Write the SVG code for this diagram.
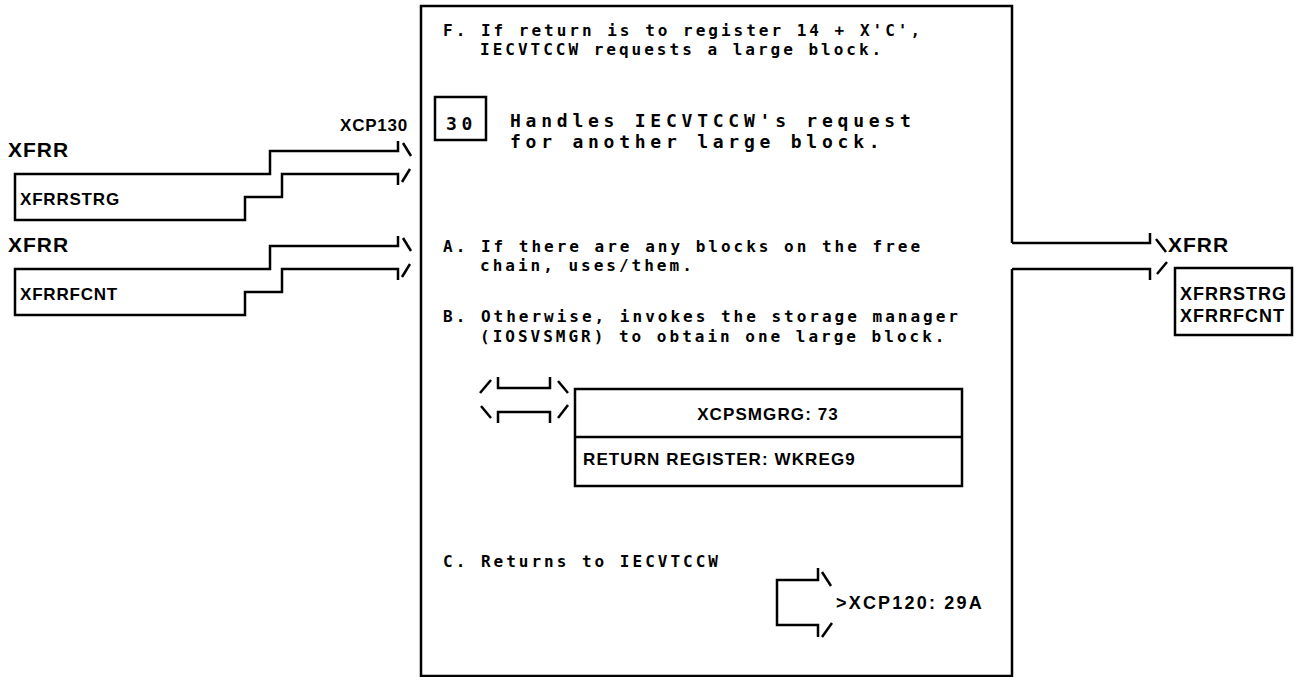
<svg xmlns="http://www.w3.org/2000/svg" width="1297" height="677" viewBox="0 0 1297 677">
<style>
  .ln{fill:none;stroke:#000;stroke-width:2.5;stroke-linejoin:miter;stroke-linecap:butt}
  .mono{font-family:"DejaVu Sans Mono","Liberation Mono",monospace;font-weight:bold;font-size:16px;letter-spacing:3px;fill:#000}
  .head{font-family:"DejaVu Sans Mono","Liberation Mono",monospace;font-weight:bold;font-size:18px;letter-spacing:4.76px;fill:#000}
  .lbl{font-family:"Liberation Sans",Arial,sans-serif;font-weight:bold;font-size:21px;letter-spacing:1px;fill:#000}
  .sm{font-family:"Liberation Sans",Arial,sans-serif;font-weight:bold;font-size:17px;letter-spacing:0.8px;fill:#000}
  .smr{font-family:"Liberation Sans",Arial,sans-serif;font-weight:bold;font-size:18px;letter-spacing:1px;fill:#000}
  .boxt{font-family:"Liberation Sans",Arial,sans-serif;font-weight:bold;font-size:17px;letter-spacing:1.1px;fill:#000}
  .ref{font-family:"Liberation Sans",Arial,sans-serif;font-weight:bold;font-size:18px;letter-spacing:2.2px;fill:#000}
</style>
<rect width="1297" height="677" fill="#fff"/>

<g id="main">
  <path class="ln" d="M1012,243 V6 H421 V676 H1012 V269"/>
  <text class="mono" x="443" y="36">F. If return is to register 14 + X'C',</text>
  <text class="mono" x="480" y="55">IECVTCCW requests a large block.</text>
  <g id="step30">
    <rect class="ln" x="435" y="97" width="51" height="43"/>
    <text class="head" x="446" y="130" letter-spacing="1.5">30</text>
  </g>
  <text class="head" x="510" y="127">Handles IECVTCCW's request</text>
  <text class="head" x="510" y="148">for another large block.</text>
  <text class="mono" x="443" y="252">A. If there are any blocks on the free</text>
  <text class="mono" x="480" y="271">chain, uses/them.</text>
  <text class="mono" x="443" y="322">B. Otherwise, invokes the storage manager</text>
  <text class="mono" x="480" y="342">(IOSVSMGR) to obtain one large block.</text>
  <text class="mono" x="443" y="567">C. Returns to IECVTCCW</text>
</g>

<g id="xcpsmgrg">
  <rect class="ln" x="575" y="389" width="387" height="97"/>
  <line class="ln" x1="575" y1="437" x2="962" y2="437"/>
  <text class="boxt" x="768" y="420" text-anchor="middle">XCPSMGRG: 73</text>
  <text class="boxt" x="583" y="465">RETURN REGISTER: WKREG9</text>
</g>

<g id="xfrr-in1">
  <text class="lbl" x="8" y="157">XFRR</text>
  <text class="sm" x="20" y="205">XFRRSTRG</text>
</g>
<g id="xfrr-in2">
  <text class="lbl" x="8" y="252">XFRR</text>
  <text class="sm" x="20" y="300">XFRRFCNT</text>
</g>
<g id="xcp130">
  <text class="sm" x="340" y="131" letter-spacing="1.5">XCP130</text>
</g>
<g id="xfrr-out">
  <text class="lbl" x="1168" y="252">XFRR</text>
  <rect class="ln" x="1175" y="268" width="117" height="67"/>
  <text class="smr" x="1180" y="300">XFRRSTRG</text>
  <text class="smr" x="1180" y="322">XFRRFCNT</text>
</g>
<g id="xcp120">
  <text class="ref" x="836" y="609">&gt;XCP120: 29A</text>
</g>

<g id="connectors">
  <path class="ln" d="M398,141 V151 H270 V174 H15 V220 H245 V197 H282 V174 H398 V185"/>
  <line class="ln" x1="403" y1="143" x2="411" y2="156"/>
  <line class="ln" x1="402" y1="182" x2="410" y2="169"/>
  <path class="ln" d="M398,236 V246 H270 V269 H15 V315 H245 V292 H282 V269 H398 V280"/>
  <line class="ln" x1="403" y1="238" x2="411" y2="251"/>
  <line class="ln" x1="402" y1="277" x2="410" y2="264"/>
  <path class="ln" d="M1012,243 H1150 V233"/>
  <line class="ln" x1="1156" y1="239" x2="1166" y2="252"/>
  <path class="ln" d="M1012,269 H1150 V280"/>
  <line class="ln" x1="1157" y1="274" x2="1167" y2="262"/>
  <path class="ln" d="M498,377 V388 H550 V377"/>
  <line class="ln" x1="480" y1="393" x2="491" y2="380"/>
  <line class="ln" x1="558" y1="381" x2="568" y2="393"/>
  <path class="ln" d="M498,423 V412 H550 V423"/>
  <line class="ln" x1="481" y1="406" x2="491" y2="418"/>
  <line class="ln" x1="558" y1="418" x2="568" y2="405"/>
  <path class="ln" d="M818,568 V580 H777 V625 H818 V637"/>
  <line class="ln" x1="822" y1="572" x2="831" y2="586"/>
  <line class="ln" x1="822" y1="637" x2="832" y2="623"/>
</g>
</svg>
